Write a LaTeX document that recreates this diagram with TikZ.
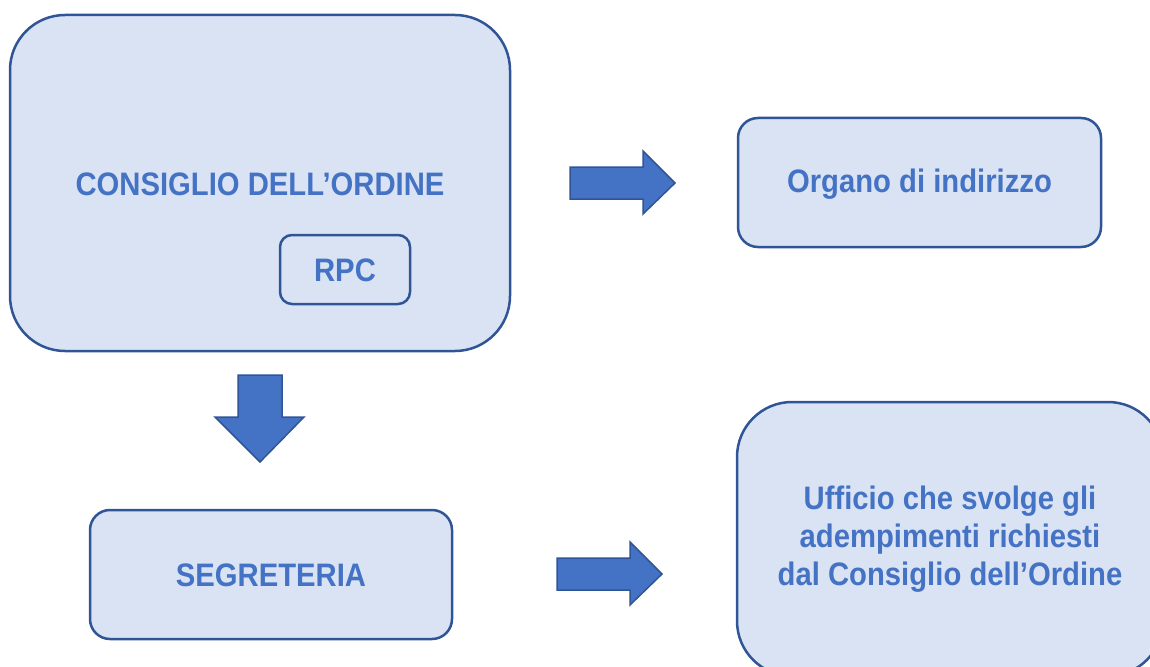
\documentclass[tikz,border=0pt]{standalone}
\usepackage{fontspec}
\setmainfont[FakeStretch=0.9]{Liberation Sans}
\definecolor{boxfill}{HTML}{DAE3F3}
\definecolor{boxline}{HTML}{2F5597}
\definecolor{txt}{HTML}{4472C4}
\definecolor{arrfill}{HTML}{4472C4}
\begin{document}
\begin{tikzpicture}[x=1pt,y=-1pt,
  box/.style={fill=boxfill,draw=boxline,line width=2.5pt},
  lbl/.style={text=txt,font=\fontsize{32.5}{38}\selectfont\bfseries,align=center},
  blockarrow/.style={fill=arrfill,draw=boxline,line width=1.5pt,line join=miter}]
\useasboundingbox (0,0) rectangle (1150,666);
\begin{scope}
\clip (0,0) rectangle (1150,666);
% boxes
\draw[box,rounded corners=55pt] (10,15) rectangle (510,351);
\draw[box,rounded corners=12pt] (280,235) rectangle (410,304);
\draw[box,rounded corners=20pt] (738,118) rectangle (1101,247);
\draw[box,rounded corners=20pt] (90,510) rectangle (452,639);
\draw[box,rounded corners=55pt] (737,402) rectangle (1163,676);
\end{scope}
% labels
\node[lbl] (cons) at (260,184) {CONSIGLIO DELL’ORDINE};
\node[lbl] (rpc) at (345,270) {RPC};
\node[lbl] (org) at (919.5,184) {Organo di indirizzo};
\node[lbl] (seg) at (271,575) {SEGRETERIA};
\node[lbl] (uff) at (950,539) {Ufficio che svolge gli\\adempimenti richiesti\\dal Consiglio dell’Ordine};
% block arrows
\draw[blockarrow] (570,167) -- (643,167) -- (643,151) -- (675,183) -- (643,214) -- (643,199) -- (570,199) -- cycle;
\draw[blockarrow] (238,375) -- (282,375) -- (282,417) -- (304,417) -- (260,462) -- (215,417) -- (238,417) -- cycle;
\draw[blockarrow] (557,558) -- (630,558) -- (630,542) -- (662,574) -- (630,605) -- (630,590) -- (557,590) -- cycle;
\end{tikzpicture}
\end{document}
